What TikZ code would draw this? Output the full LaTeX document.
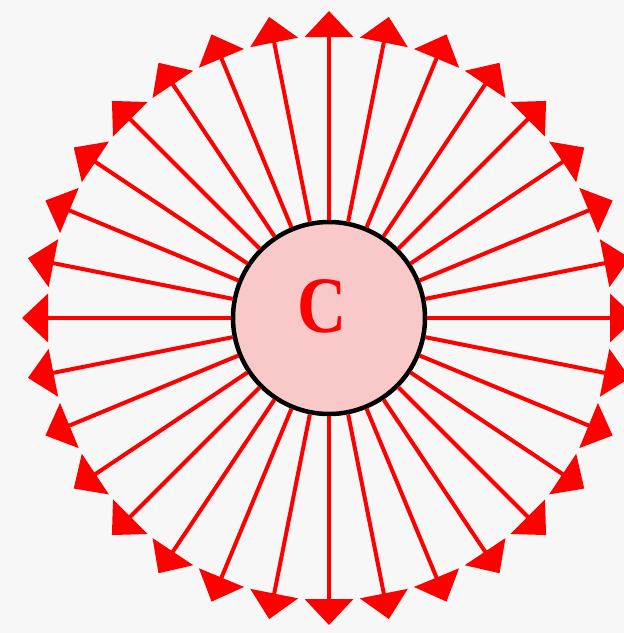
\documentclass[tikz,border=0pt]{standalone}
\usepackage{fontspec}
\usepackage{tikz}
\usetikzlibrary{arrows.meta, positioning, calc}

\newfontfamily\chargefont{Liberation Serif}
\definecolor{paper}{RGB}{247,247,247}
\definecolor{chargefill}{RGB}{249,200,200}
\definecolor{fieldred}{RGB}{255,0,0}

\begin{document}
\begin{tikzpicture}[x=1pt, y=-1pt, >={Triangle[length=26pt, width=48pt]},
    charge/.style={circle, draw=black, line width=4.5pt, fill=chargefill,
        minimum size=192pt, inner sep=0pt},
    chargelabel/.style={inner sep=0pt, text=fieldred,
        font=\chargefont\fontsize{80}{82}\selectfont\bfseries},
    fieldline/.style={->, draw=fieldred, line width=4pt}]

    % -------------------------------------------------------------
    % Frame of the picture
    % -------------------------------------------------------------
    \fill[paper] (0,0) rectangle (624,633);
    \useasboundingbox (0,0) rectangle (624,633);

    % -------------------------------------------------------------
    % The charge C with its 32 radial field lines
    % -------------------------------------------------------------
    \node[charge] (C) at (329,318) {};
    \node[chargelabel] (Clabel) at ($(C)+(-7,-12)$) {\scalebox{0.85}[1]{C}};

    \foreach \i in {0,...,31} {
        \coordinate (tip\i) at ($(C)+(\i*11.25:307)$);
        \draw[fieldline] (C) -- (tip\i);
    }

\end{tikzpicture}
\end{document}
